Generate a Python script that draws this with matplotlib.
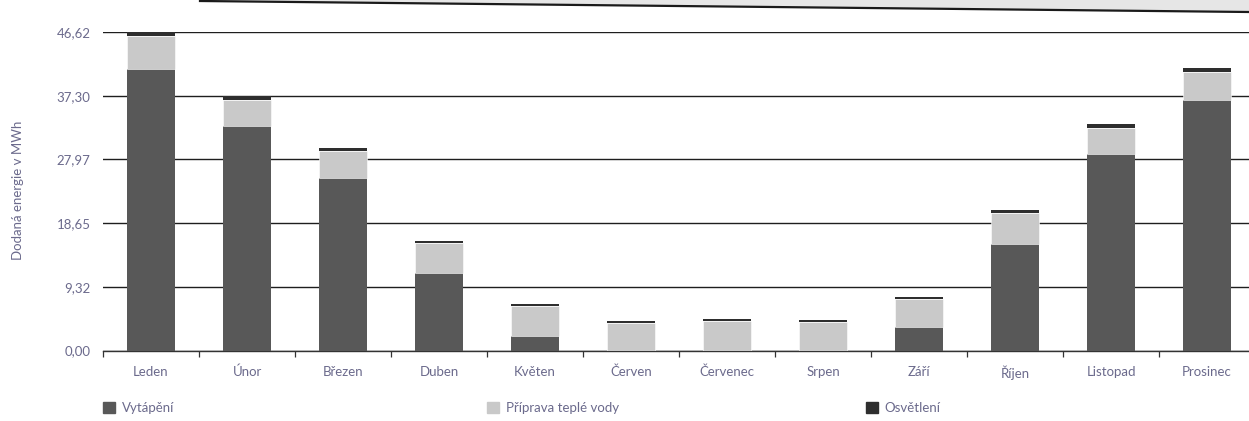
import numpy as np
import matplotlib as mpl
mpl.use('Agg')
import matplotlib.pyplot as plt
from matplotlib.lines import Line2D
from matplotlib.patches import Polygon, Patch

months = ['Leden', 'Únor', 'Březen', 'Duben', 'Květen', 'Červen',
          'Červenec', 'Srpen', 'Září', 'Říjen', 'Listopad', 'Prosinec']
vytapeni = [41.2, 32.8, 25.3, 11.3, 2.1, 0.0, 0.0, 0.0, 3.5, 15.6, 28.7, 36.6]
tepla_voda = [4.8, 3.8, 3.9, 4.4, 4.4, 4.0, 4.3, 4.2, 4.0, 4.5, 3.9, 4.2]
osvetleni = [0.6, 0.6, 0.45, 0.35, 0.35, 0.3, 0.3, 0.3, 0.35, 0.4, 0.55, 0.6]
yticks = [0.00, 9.32, 18.65, 27.97, 37.30, 46.62]
legend_labels = ['Vytápění', 'Příprava teplé vody', 'Osvětlení']

plt.rcParams['font.family'] = ['Lato', 'DejaVu Sans']
text_col = '#6b6a8c'
c_heat = '#585858'
c_water = '#c9c9c9'
c_light = '#2e2e2e'

fig = plt.figure(figsize=(12.49, 4.21), dpi=100)
# axes runs a little past the right edge, as in the cropped scan
ax = fig.add_axes([103 / 1249, 70.5 / 421, 1152 / 1249, 318.5 / 421])

x = np.arange(len(months))
heat = np.array(vytapeni)
water = np.array(tepla_voda)
light = np.array(osvetleni)

ax.bar(x, heat, width=0.5, color=c_heat, zorder=3)
ax.bar(x, water, width=0.5, bottom=heat, color=c_water, zorder=3,
       edgecolor='white', linewidth=0.4)
ax.bar(x, light, width=0.5, bottom=heat + water, color=c_light, zorder=3)

ax.set_xlim(-0.5, len(months) - 0.5)
ax.set_ylim(0, 46.62)
ax.set_yticks(yticks)
ax.set_yticklabels([f'{v:.2f}'.replace('.', ',') for v in yticks])
ax.yaxis.grid(True, color='#1e1e1e', linewidth=1.0, zorder=1)
ax.set_axisbelow(True)

ax.set_xticks(x)
ax.set_xticklabels(months)
ax.set_xticks(np.arange(-0.5, len(months), 1), minor=True)
ax.tick_params(axis='x', which='major', length=0, pad=11,
               labelsize=9.5, labelcolor=text_col)
ax.tick_params(axis='x', which='minor', length=4, width=0.9, color='#333333',
               direction='out')
ax.tick_params(axis='y', length=0, pad=9, labelsize=9.5, labelcolor=text_col)

for s in ['left', 'right', 'top']:
    ax.spines[s].set_visible(False)
ax.spines['bottom'].set_color('#333333')
ax.spines['bottom'].set_linewidth(1.0)

fig.text(18 / 1249, 1 - 190 / 421, 'Dodaná energie v MWh', rotation=90,
         ha='center', va='center', fontsize=9.5, color=text_col)

# scanned page header band at the top
fig.add_artist(Polygon([[200 / 1249, 1.0], [1.0, 1.0], [1.0, 1 - 12 / 421],
                        [200 / 1249, 1 - 1 / 421]],
                       closed=True, transform=fig.transFigure,
                       facecolor='#e6e6e6', edgecolor='none'))
fig.add_artist(Line2D([200 / 1249, 1.0], [1 - 1 / 421, 1 - 12 / 421],
                      transform=fig.transFigure, color='#1a1a1a', linewidth=1.6))

colors = [c_heat, c_water, c_light]
legend_x = [98, 482, 861]
for lab, col, lx in zip(legend_labels, colors, legend_x):
    leg = fig.legend([Patch(color=col)], [lab], loc='center left',
                     bbox_to_anchor=(lx / 1249, 1 - 408 / 421),
                     frameon=False, fontsize=9.5, handlelength=0.9,
                     handleheight=0.9, handletextpad=0.5, borderaxespad=0)
    for t in leg.get_texts():
        t.set_color(text_col)

fig.savefig('out.png', dpi=100)
